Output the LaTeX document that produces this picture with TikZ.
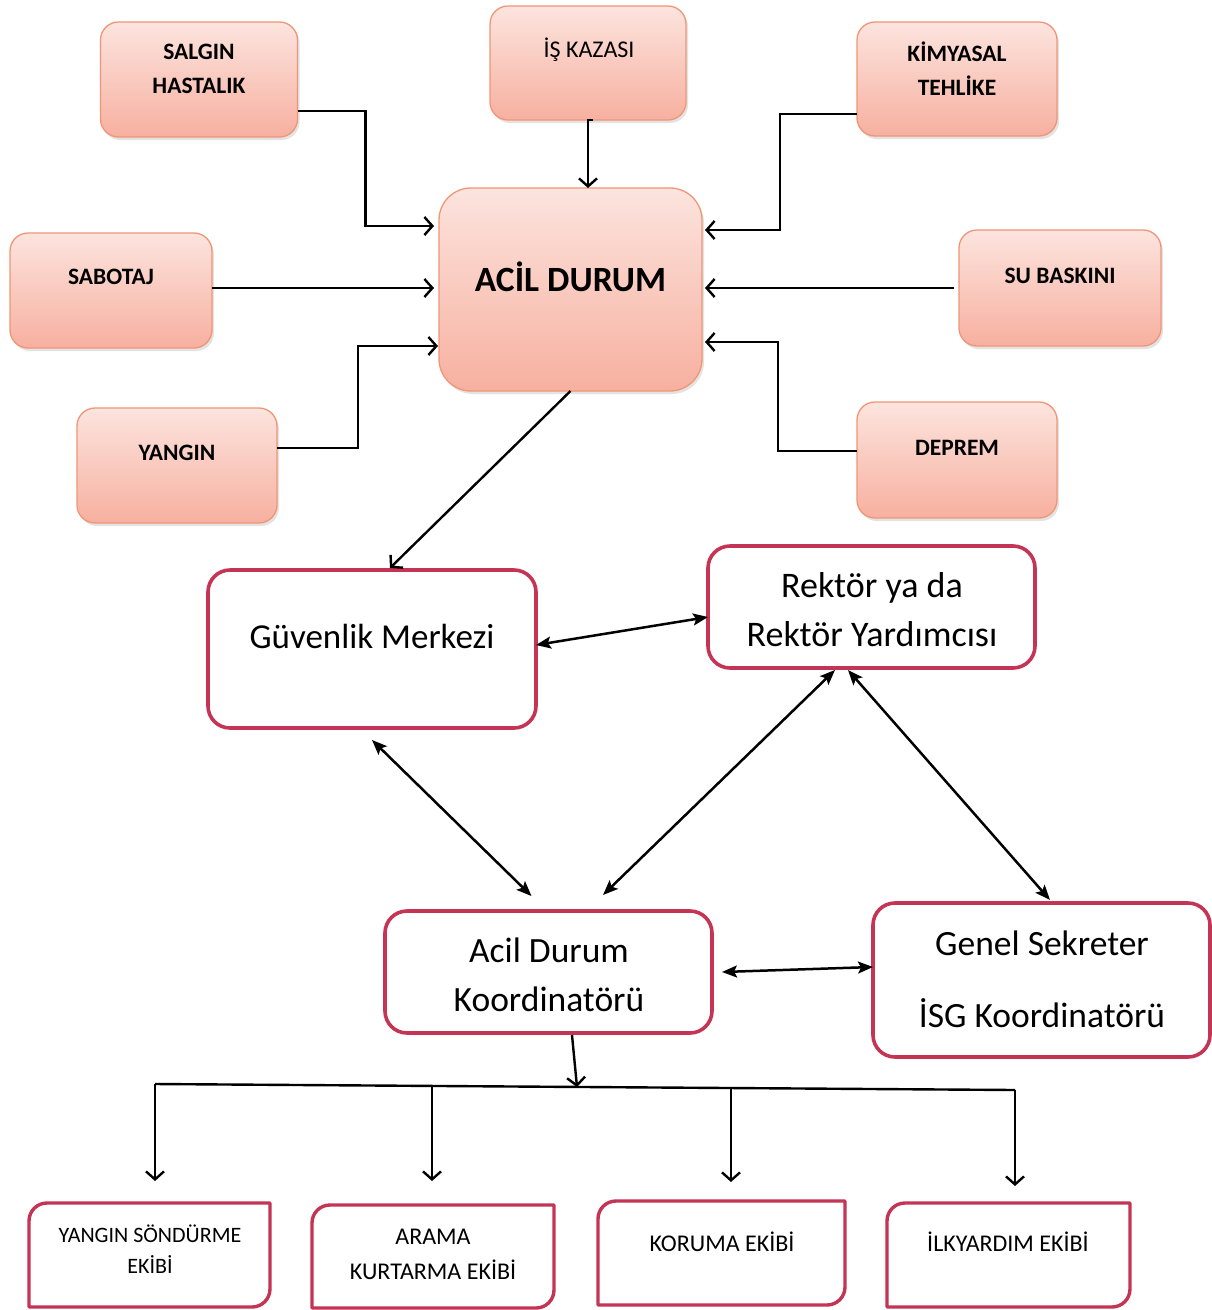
\documentclass[tikz,border=0pt]{standalone}
\usepackage{fontspec}
\setmainfont{Carlito}
\usetikzlibrary{arrows.meta,shadows}

\definecolor{pinktop}{RGB}{252,228,222}
\definecolor{pinkbot}{RGB}{247,176,160}
\definecolor{pinkedge}{RGB}{240,150,118}
\definecolor{frame}{RGB}{196,52,84}

\tikzset{
  pinkbox/.style={draw=pinkedge, line width=1.3pt, top color=pinktop, bottom color=pinkbot,
    rounded corners=18pt, inner sep=0pt, outer sep=0pt,
    drop shadow={shadow xshift=2pt, shadow yshift=-3pt, opacity=0.22}},
  pinktext/.style={font=\fontsize{23.5}{34}\selectfont\bfseries, align=center, inner sep=0pt},
  plaintext/.style={font=\fontsize{24}{30}\selectfont, align=center, inner sep=0pt},
  bigtext/.style={font=\fontsize{35.5}{40}\selectfont\bfseries, inner sep=0pt},
  redbox/.style={draw=frame, line width=3.6pt, fill=white, rounded corners=22pt,
    inner sep=0pt, outer sep=0pt},
  redtext/.style={font=\fontsize{35.5}{49}\selectfont, align=center, inner sep=0pt},
  teambox/.style={inner sep=0pt, outer sep=0pt},
  teamline/.style={draw=frame, line width=3.4pt, line join=round},
  teamtext/.style={font=\fontsize{24}{33}\selectfont, align=center, inner sep=0pt},
  openarr/.style={line width=2.4pt, -{Straight Barb[length=8pt,width=18pt,line width=2.4pt]}},
  twoway/.style={line width=2.5pt,
    {Stealth[length=15pt,width=12pt,inset=3pt]}-{Stealth[length=15pt,width=12pt,inset=3pt]}},
  oneway/.style={line width=2.4pt, -{Straight Barb[length=8pt,width=18pt,line width=2.4pt]}},
}

\begin{document}
\begin{tikzpicture}[x=1pt, y=-1pt]
\useasboundingbox (0,0) rectangle (1212,1310);
\fill[white] (0,0) rectangle (1212,1310);

% hazard boxes
\node[pinkbox, minimum width=197pt, minimum height=115pt] (salgin) at (199,79.5) {};
\node[pinktext] (salgin-t) at (199,69) {SALGIN\\HASTALIK};

\node[pinkbox, minimum width=196pt, minimum height=114pt] (iskaza) at (588,63) {};
\node[plaintext] (iskaza-t) at (589,50) {İŞ KAZASI};

\node[pinkbox, minimum width=200pt, minimum height=114pt] (kimya) at (957,79) {};
\node[pinktext] (kimya-t) at (957,68.5) {KİMYASAL\\TEHLİKE};

\node[pinkbox, minimum width=202pt, minimum height=115pt] (sabotaj) at (111,290.5) {};
\node[pinktext] (sabotaj-t) at (111,277) {SABOTAJ};

\node[pinkbox, minimum width=202pt, minimum height=116pt] (su) at (1060,288) {};
\node[pinktext] (su-t) at (1060,276) {SU BASKINI};

\node[pinkbox, minimum width=200pt, minimum height=115pt] (yangin) at (177,465.5) {};
\node[pinktext] (yangin-t) at (177,453) {YANGIN};

\node[pinkbox, minimum width=200pt, minimum height=116pt] (deprem) at (957,460) {};
\node[pinktext] (deprem-t) at (957,448) {DEPREM};

% central emergency box
\node[pinkbox, rounded corners=32pt, minimum width=263pt, minimum height=203pt] (acil) at (570.5,289.5) {};
\node[bigtext] (acil-t) at (570.5,277) {ACİL DURUM};

% hazard connectors
\draw[openarr, shorten >=5pt] ([yshift=-31.5pt]salgin.east) -- ++(68,0) |- ([yshift=63.5pt]acil.west);
\draw[openarr] ([xshift=5pt]iskaza.south) -- (iskaza.south) -- (iskaza.south |- acil.north);
\draw[openarr, shorten >=3pt] ([yshift=-35pt]kimya.west) -- ++(-77,0) |- ([yshift=59.5pt]acil.east);
\draw[openarr, shorten >=5pt] ([yshift=2.5pt]sabotaj.east) -- ([yshift=2.5pt]acil.west |- sabotaj.east);
\draw[openarr, shorten >=3pt] ([xshift=-5pt]su.west) -- (acil.east |- su.west);
\draw[openarr, shorten >=1pt] ([yshift=17.5pt]yangin.east) -- ++(81,0) |- ([yshift=-56.5pt]acil.west);
\draw[openarr, shorten >=3pt] ([yshift=9pt]deprem.west) -- ++(-79,0) |- ([yshift=-52.5pt]acil.east);

% management boxes
\node[redbox, minimum width=328pt, minimum height=158pt] (guv) at (372,649) {};
\node[redtext, font=\fontsize{35}{49}\selectfont] (guv-t) at (372,636) {Güvenlik Merkezi};

\node[redbox, minimum width=327pt, minimum height=122pt] (rektor) at (871.5,607) {};
\node[redtext, font=\fontsize{36}{49}\selectfont] (rektor-t) at (872,609.5) {Rektör ya da\\Rektör Yardımcısı};

\node[redbox, minimum width=327pt, minimum height=122pt] (koord) at (548.5,972) {};
\node[redtext] (koord-t) at (549,975) {Acil Durum\\Koordinatörü};

\node[redbox, minimum width=337pt, minimum height=154pt] (genel) at (1041.5,980) {};
\node[redtext, font=\fontsize{35.5}{72}\selectfont] (genel-t) at (1042,979) {Genel Sekreter\\İSG Koordinatörü};

\draw[oneway] (acil.south) -- ([xshift=18pt,yshift=2pt]guv.north);
\draw[twoway] ([yshift=4pt]guv.east) -- ([yshift=-10pt]rektor.west);
\draw[twoway] ([yshift=-12pt]guv.south) -- ([xshift=-17pt,yshift=15pt]koord.north);
\draw[twoway] ([xshift=-36.5pt,yshift=-2pt]rektor.south) -- ([xshift=54.5pt,yshift=16pt]koord.north);
\draw[twoway] ([xshift=-23.5pt,yshift=-2pt]rektor.south) -- ([xshift=8.5pt,yshift=3pt]genel.north);
\draw[twoway] ([xshift=10pt]koord.east) -- ([yshift=13pt]genel.west);

% team boxes
\node[teambox, minimum width=241pt, minimum height=104pt] (tsond) at (149.5,1255) {};
\node[teambox, minimum width=242pt, minimum height=103pt] (tarama) at (433,1256.5) {};
\node[teambox, minimum width=247pt, minimum height=104pt] (tkoruma) at (721.5,1253) {};
\node[teambox, minimum width=243pt, minimum height=104pt] (tilk) at (1008.5,1255) {};
\foreach \n in {tsond,tarama,tkoruma,tilk}
  \draw[teamline] (\n.south west) -- ([yshift=-18pt]\n.north west)
    .. controls ([yshift=-8pt]\n.north west) and ([xshift=8pt]\n.north west) .. ([xshift=18pt]\n.north west)
    -- (\n.north east) -- ([yshift=18pt]\n.south east)
    .. controls ([yshift=8pt]\n.south east) and ([xshift=-8pt]\n.south east) .. ([xshift=-18pt]\n.south east)
    -- cycle;
\node[teamtext, font=\fontsize{22}{31}\selectfont] (tsond-t) at (150,1249.5) {YANGIN SÖNDÜRME\\EKİBİ};
\node[teamtext, font=\fontsize{24}{35}\selectfont] (tarama-t) at (433,1254.5) {ARAMA\\KURTARMA EKİBİ};
\node[teamtext] (tkoruma-t) at (722,1242) {KORUMA EKİBİ};
\node[teamtext] (tilk-t) at (1008,1242) {İLKYARDIM EKİBİ};

% distribution bus
\coordinate (b1) at (155,1084);
\coordinate (b2) at (432,1086);
\coordinate (bk) at (577,1087);
\coordinate (b3) at (731,1088);
\coordinate (b4) at (1015,1090);
\draw[line width=2.4pt] (b1) -- (b4);
\draw[oneway] ([xshift=23.5pt,yshift=-2pt]koord.south) -- (bk);
\draw[openarr, shorten >=22pt] (b1) -- (b1 |- tsond.north);
\draw[openarr, shorten >=24pt] (b2) -- (b2 |- tarama.north);
\draw[openarr, shorten >=19pt] (b3) -- (b3 |- tkoruma.north);
\draw[openarr, shorten >=17pt] (b4) -- (b4 |- tilk.north);
\end{tikzpicture}
\end{document}
